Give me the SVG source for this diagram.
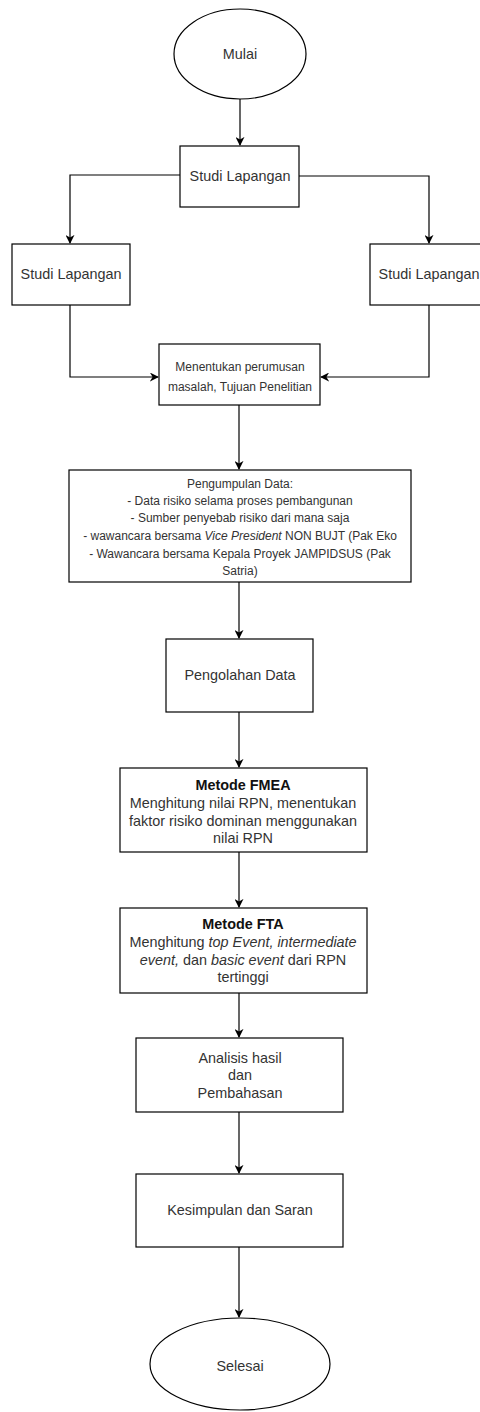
<svg xmlns="http://www.w3.org/2000/svg" width="480" height="1412" viewBox="0 0 480 1412">
<style>
.box{fill:#fff;stroke:#000;stroke-width:1.2}
.ln{fill:none;stroke:#000;stroke-width:1.2;marker-end:url(#arr)}
text{font-family:"Liberation Sans",Arial,sans-serif;fill:#333;text-anchor:middle;dominant-baseline:central}
.t14{font-size:14.4px}
.t12{font-size:12px}
.b{font-weight:bold;fill:#111}
.i{font-style:italic}
</style>
<defs>
<marker id="arr" viewBox="0 0 10 10" refX="9" refY="5" markerWidth="9" markerHeight="9" markerUnits="userSpaceOnUse" orient="auto">
<path d="M0,0 L10,5 L0,10 L3,5 Z" fill="#000"/>
</marker>
</defs>
<rect width="480" height="1412" fill="#fff"/>
<g id="connectors">
<path class="ln" d="M240,99 L240,145"/>
<path class="ln" d="M180,175 L70,175 L70,243"/>
<path class="ln" d="M299,176 L429,176 L429,243"/>
<path class="ln" d="M70,305 L70,377 L158,377"/>
<path class="ln" d="M429,305 L429,377 L321,377"/>
<path class="ln" d="M239,405 L239,469"/>
<path class="ln" d="M239,582 L239,638"/>
<path class="ln" d="M239,712 L239,767"/>
<path class="ln" d="M239,852 L239,907"/>
<path class="ln" d="M239,993 L239,1037"/>
<path class="ln" d="M239,1112 L239,1173"/>
<path class="ln" d="M239,1247 L239,1317"/>
</g>
<g id="mulai">
<ellipse class="box" cx="240" cy="54" rx="66" ry="45"/>
<text class="t14" x="240" y="54">Mulai</text>
</g>
<g id="studi-top">
<rect class="box" x="180" y="146" width="119" height="61"/>
<text class="t14" x="240" y="176">Studi Lapangan</text>
</g>
<g id="studi-left">
<rect class="box" x="12" y="244" width="118" height="61"/>
<text class="t14" x="71" y="274">Studi Lapangan</text>
</g>
<g id="studi-right">
<rect class="box" x="370" y="244" width="118" height="61"/>
<text class="t14" x="429" y="274">Studi Lapangan</text>
</g>
<g id="menentukan">
<rect class="box" x="159" y="344" width="161" height="61"/>
<text class="t12" x="240" y="367">Menentukan perumusan</text>
<text class="t12" x="240" y="387">masalah, Tujuan Penelitian</text>
</g>
<g id="pengumpulan">
<rect class="box" x="69" y="470" width="342" height="112"/>
<text class="t12" x="240" y="484">Pengumpulan Data:</text>
<text class="t12" x="240" y="501">- Data risiko selama proses pembangunan</text>
<text class="t12" x="240" y="518">- Sumber penyebab risiko dari mana saja</text>
<text class="t12" x="240" y="536">- wawancara bersama <tspan class="i">Vice President</tspan> NON BUJT (Pak Eko</text>
<text class="t12" x="240" y="554">- Wawancara bersama Kepala Proyek JAMPIDSUS (Pak</text>
<text class="t12" x="240" y="571">Satria)</text>
</g>
<g id="pengolahan">
<rect class="box" x="166" y="639" width="147" height="73"/>
<text class="t14" x="240" y="675">Pengolahan Data</text>
</g>
<g id="fmea">
<rect class="box" x="120" y="768" width="247" height="84"/>
<text class="t14 b" x="243" y="785">Metode FMEA</text>
<text class="t14" x="243" y="803">Menghitung nilai RPN, menentukan</text>
<text class="t14" x="243" y="821">faktor risiko dominan menggunakan</text>
<text class="t14" x="243" y="838">nilai RPN</text>
</g>
<g id="fta">
<rect class="box" x="120" y="908" width="247" height="85"/>
<text class="t14 b" x="243" y="924">Metode FTA</text>
<text class="t14" x="243" y="942">Menghitung <tspan class="i">top Event, intermediate</tspan></text>
<text class="t14" x="243" y="960"><tspan class="i">event,</tspan> dan <tspan class="i">basic event</tspan> dari RPN</text>
<text class="t14" x="243" y="977">tertinggi</text>
</g>
<g id="analisis">
<rect class="box" x="136" y="1038" width="207" height="74"/>
<text class="t14" x="240" y="1058">Analisis hasil</text>
<text class="t14" x="240" y="1075">dan</text>
<text class="t14" x="240" y="1093">Pembahasan</text>
</g>
<g id="kesimpulan">
<rect class="box" x="136" y="1174" width="207" height="73"/>
<text class="t14" x="240" y="1210">Kesimpulan dan Saran</text>
</g>
<g id="selesai">
<ellipse class="box" cx="240" cy="1364" rx="90" ry="46"/>
<text class="t14" x="240" y="1366">Selesai</text>
</g>
</svg>
